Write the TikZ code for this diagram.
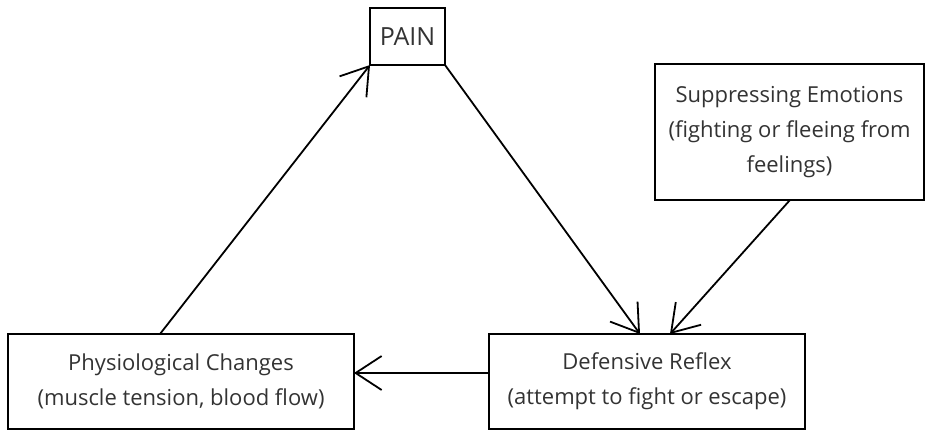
\documentclass[tikz,border=0pt]{standalone}
\usepackage{fontspec}
\setmainfont{Open Sans}
\usetikzlibrary{arrows.meta}
\definecolor{txt}{HTML}{333333}
\tikzset{
  box/.style={draw=black, line width=2pt, inner sep=0pt, outer sep=0pt,
    align=center, text=txt, font=\fontsize{22}{35}\selectfont},
  conn/.style={line width=1.8pt, -{Straight Barb[length=26pt,width=34pt,line width=1.8pt]}}
}
\begin{document}
\begin{tikzpicture}[x=1pt,y=-1pt]
\useasboundingbox (0,0) rectangle (926,432);
\node[box, minimum width=75pt, minimum height=57pt, font=\fontsize{25}{30}\selectfont] (pain) at (407.5,36.5) {PAIN};
\node[box, minimum width=269pt, minimum height=136pt] (supp) at (789.5,132)
  {Suppressing Emotions\\(fighting or fleeing from\\feelings)};
\node[box, minimum width=346pt, minimum height=95pt] (phys) at (181,381.5)
  {Physiological Changes\\(muscle tension, blood flow)};
\node[box, minimum width=316pt, minimum height=95pt] (def) at (647,381.5)
  {Defensive Reflex\\(attempt to fight or escape)};
\coordinate (physTop) at (160,334);
\coordinate (defTopA) at (640,334);
\coordinate (defTopB) at (670,334);
\coordinate (suppBot) at (790,200);
\coordinate (defLeft) at (489,373);
\coordinate (physRight) at (354,373);
\draw[conn] (physTop) -- (pain.south west);
\draw[conn] (pain.south east) -- (defTopA);
\draw[conn] (suppBot) -- (defTopB);
\draw[conn] (defLeft) -- (physRight);
\end{tikzpicture}
\end{document}
